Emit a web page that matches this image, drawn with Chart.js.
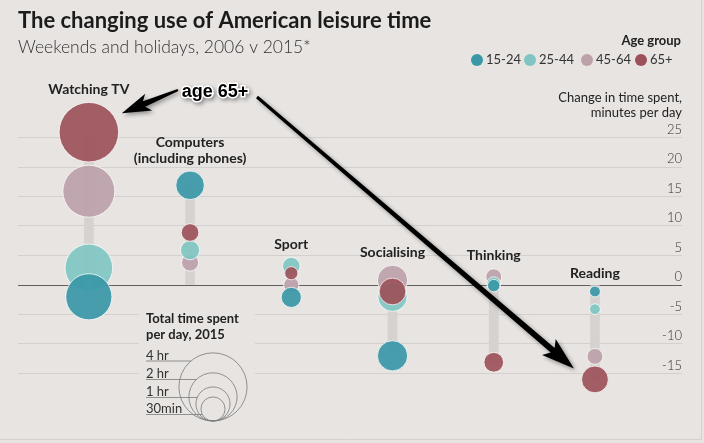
<!DOCTYPE html>
<html>
<head>
<meta charset="utf-8">
<script src="https://cdn.jsdelivr.net/npm/chart.js@4.4.1/dist/chart.umd.min.js"></script>
<style>
  html, body { margin: 0; padding: 0; background: #e7e4e2; }
  #wrap { width: 704px; height: 443px; position: relative; }
</style>
</head>
<body>
<div id="wrap"><canvas id="leisure"></canvas></div>
<script>
// categories (one entry per label line)
var categories = [['Watching TV'], ['Computers', '(including phones)'], ['Sport'], ['Socialising'], ['Thinking'], ['Reading']];
var ageGroups = ['15-24', '25-44', '45-64', '65+'];

// change in time spent 2006 -> 2015, minutes per day
var change15to24 = [-2.0, 16.9, -2.1, -12.0, -0.1, -1.1];
var change25to44 = [2.9, 5.9, 3.2, -2.0, 0.2, -4.1];
var change45to64 = [15.9, 3.8, 0.0, 0.8, 1.4, -12.1];
var change65plus = [25.9, 8.9, 2.0, -1.1, -13.1, -16.0];

// total time spent per day in 2015, minutes
var total15to24 = [110, 42, 21, 47, 8, 6];
var total25to44 = [117, 19, 16, 44, 10, 6];
var total45to64 = [140, 15, 12, 47, 13, 13];
var total65plus = [183, 16, 9, 37, 20, 37];

var yTicks = [-15, -10, -5, 0, 5, 10, 15, 20, 25];
var sizeKeyMinutes = [240, 120, 60, 30];
var sizeKeyLabels = ['4 hr', '2 hr', '1 hr', '30min'];

var BG = '#e7e4e2';
var colors = ['#3a97a7', '#80c5c2', '#bda1a9', '#9c515a'];
var drawOrder = [2, 3, 4, 1]; // 65+ on top, 45-64 at the back

var series = [
  { label: ageGroups[0], change: change15to24, total: total15to24 },
  { label: ageGroups[1], change: change25to44, total: total25to44 },
  { label: ageGroups[2], change: change45to64, total: total45to64 },
  { label: ageGroups[3], change: change65plus, total: total65plus }
];

// bubble area proportional to total time
function radius(minutes) { return 2.2 * Math.sqrt(minutes); }

function alpha(hex, a) {
  var n = parseInt(hex.slice(1), 16);
  return 'rgba(' + (n >> 16) + ',' + ((n >> 8) & 255) + ',' + (n & 255) + ',' + a + ')';
}

var datasets = series.map(function (s, i) {
  return {
    type: 'bubble',
    label: s.label,
    data: categories.map(function (c, j) { return { x: j, y: s.change[j], r: radius(s.total[j]) }; }),
    backgroundColor: alpha(colors[i], 0.92),
    borderColor: 'rgba(255,255,255,0.75)',
    borderWidth: 1,
    order: drawOrder[i],
    clip: false
  };
});

// grey stalk from zero to the furthest bubble
datasets.push({
  type: 'bar',
  label: 'range',
  data: categories.map(function (c, j) {
    var vals = series.map(function (s) { return s.change[j]; });
    return { x: j, y: [Math.min(0, Math.min.apply(null, vals)), Math.max(0, Math.max.apply(null, vals))] };
  }),
  backgroundColor: '#d5d2d0',
  barThickness: 9,
  order: 10
});

function arrow(ctx, x0, y0, x1, y1, w0, w1, headLen, headW) {
  var dx = x1 - x0, dy = y1 - y0, len = Math.hypot(dx, dy);
  var ux = dx / len, uy = dy / len, nx = -uy, ny = ux;
  var bx = x1 - ux * headLen, by = y1 - uy * headLen;
  var cx = bx - ux * 5, cy = by - uy * 5;
  ctx.beginPath();
  ctx.moveTo(x0 + nx * w0 / 2, y0 + ny * w0 / 2);
  ctx.lineTo(bx + nx * w1 / 2, by + ny * w1 / 2);
  ctx.lineTo(cx + nx * headW / 2, cy + ny * headW / 2);
  ctx.lineTo(x1, y1);
  ctx.lineTo(cx - nx * headW / 2, cy - ny * headW / 2);
  ctx.lineTo(bx - nx * w1 / 2, by - ny * w1 / 2);
  ctx.lineTo(x0 - nx * w0 / 2, y0 - ny * w0 / 2);
  ctx.closePath();
  ctx.fill();
}

var decor = {
  id: 'decor',
  beforeDatasetsDraw: function (chart) {
    // size key sits on a plain patch, hiding the grid lines
    var ctx = chart.ctx;
    ctx.save();
    ctx.fillStyle = BG;
    ctx.fillRect(139, 303, 116, 124);
    ctx.restore();
  },
  afterDraw: function (chart) {
    var ctx = chart.ctx, xs = chart.scales.x, ys = chart.scales.y;
    ctx.save();

    // title
    ctx.textBaseline = 'middle';
    ctx.textAlign = 'left';
    ctx.fillStyle = '#1b1b1b';
    ctx.font = 'bold 22px Lato';
    ctx.fillText('The changing use of American leisure time', 18, 21);
    ctx.fillStyle = '#333';
    ctx.font = '300 17.5px Lato';
    ctx.fillText('Weekends and holidays, 2006 v 2015*', 18, 47);

    // colour key
    ctx.textAlign = 'right';
    ctx.fillStyle = '#222';
    ctx.font = 'bold 13px Lato';
    ctx.fillText('Age group', 681, 41);
    var keyX = [477, 530, 587, 641];
    ctx.font = '13px Lato';
    ageGroups.forEach(function (g, i) {
      ctx.fillStyle = colors[i];
      ctx.beginPath();
      ctx.arc(keyX[i], 60, 6, 0, Math.PI * 2);
      ctx.fill();
      ctx.fillStyle = '#333';
      ctx.textAlign = 'left';
      ctx.fillText(g, keyX[i] + 9, 60);
    });

    // axis caption
    ctx.textAlign = 'right';
    ctx.fillStyle = '#222';
    ctx.fillText('Change in time spent,', 682, 98);
    ctx.fillText('minutes per day', 682, 113);

    // category labels above the highest bubble
    ctx.textAlign = 'center';
    ctx.font = 'bold 14px Lato';
    ctx.fillStyle = '#222';
    categories.forEach(function (lines, j) {
      var top = Infinity;
      series.forEach(function (s) {
        top = Math.min(top, ys.getPixelForValue(s.change[j]) - radius(s.total[j]));
      });
      var cx = xs.getPixelForValue(j);
      lines.forEach(function (l, k) {
        ctx.fillText(l, cx, top - 13 - (lines.length - 1 - k) * 16);
      });
    });

    // size key
    ctx.textAlign = 'left';
    ctx.font = 'bold 13px Lato';
    ctx.fillStyle = '#222';
    ctx.fillText('Total time spent', 146, 319);
    ctx.fillText('per day, 2015', 146, 335);
    var kx = 213, kBottom = 421;
    var lineY = [361, 379.5, 397.5, 414.5];
    ctx.strokeStyle = '#7a7a7a';
    ctx.lineWidth = 0.8;
    ctx.font = '13px Lato';
    ctx.fillStyle = '#333';
    sizeKeyMinutes.forEach(function (m, i) {
      var r = radius(m), cy = kBottom - r;
      ctx.beginPath();
      ctx.arc(kx, cy, r, 0, Math.PI * 2);
      ctx.stroke();
      var dy = lineY[i] - cy;
      var ex = kx - Math.sqrt(Math.max(0, r * r - dy * dy));
      ctx.beginPath();
      ctx.moveTo(146, lineY[i]);
      ctx.lineTo(ex, lineY[i]);
      ctx.stroke();
      ctx.textBaseline = 'bottom';
      ctx.fillText(sizeKeyLabels[i], 146, lineY[i] + 1);
    });

    // "age 65+" call-out
    var tv = chart.getDatasetMeta(3).data[0];
    var rd = chart.getDatasetMeta(3).data[5];
    ctx.fillStyle = '#000';
    ctx.shadowColor = 'rgba(0,0,0,0.4)';
    ctx.shadowBlur = 4;
    ctx.shadowOffsetX = 2;
    ctx.shadowOffsetY = 2;
    arrow(ctx, 178, 90, tv.x + 33, tv.y - 19, 2, 6, 24, 18);
    arrow(ctx, 257, 97, rd.x - 21, rd.y - 11, 3, 6, 28, 21);
    ctx.font = 'bold 18px "Liberation Sans", Arial';
    ctx.textAlign = 'center';
    ctx.textBaseline = 'middle';
    ctx.lineWidth = 3;
    ctx.strokeStyle = '#fff';
    ctx.strokeText('age 65+', 215, 92);
    ctx.shadowColor = 'transparent';
    ctx.fillText('age 65+', 215, 92);

    // frame
    ctx.strokeStyle = '#d3d0ce';
    ctx.lineWidth = 1;
    ctx.beginPath();
    ctx.moveTo(701.5, 0);
    ctx.lineTo(701.5, 439.5);
    ctx.lineTo(0, 439.5);
    ctx.stroke();
    ctx.restore();
  }
};

new Chart(document.getElementById('leisure'), {
  type: 'bubble',
  data: { datasets: datasets },
  options: {
    responsive: true,
    maintainAspectRatio: false,
    animation: false,
    events: [],
    layout: { autoPadding: false, padding: { top: 131.6, bottom: 57.7, left: 18, right: 22 } },
    plugins: { legend: { display: false }, tooltip: { enabled: false } },
    scales: {
      x: { type: 'linear', min: -0.7, max: 5.86, offset: false, display: false },
      y: {
        type: 'linear',
        position: 'right',
        min: -17,
        max: 26,
        afterBuildTicks: function (scale) {
          scale.ticks = yTicks.map(function (v) { return { value: v }; });
        },
        border: { display: false },
        grid: {
          drawTicks: false,
          lineWidth: 1,
          color: function (c) { return c.tick && c.tick.value === 0 ? '#5f5f5f' : '#d3d0ce'; }
        },
        ticks: {
          mirror: true,
          padding: 0,
          labelOffset: -8,
          color: '#333',
          font: { family: 'Lato', size: 13, weight: '300' }
        }
      }
    }
  },
  plugins: [decor]
});
</script>
</body>
</html>
